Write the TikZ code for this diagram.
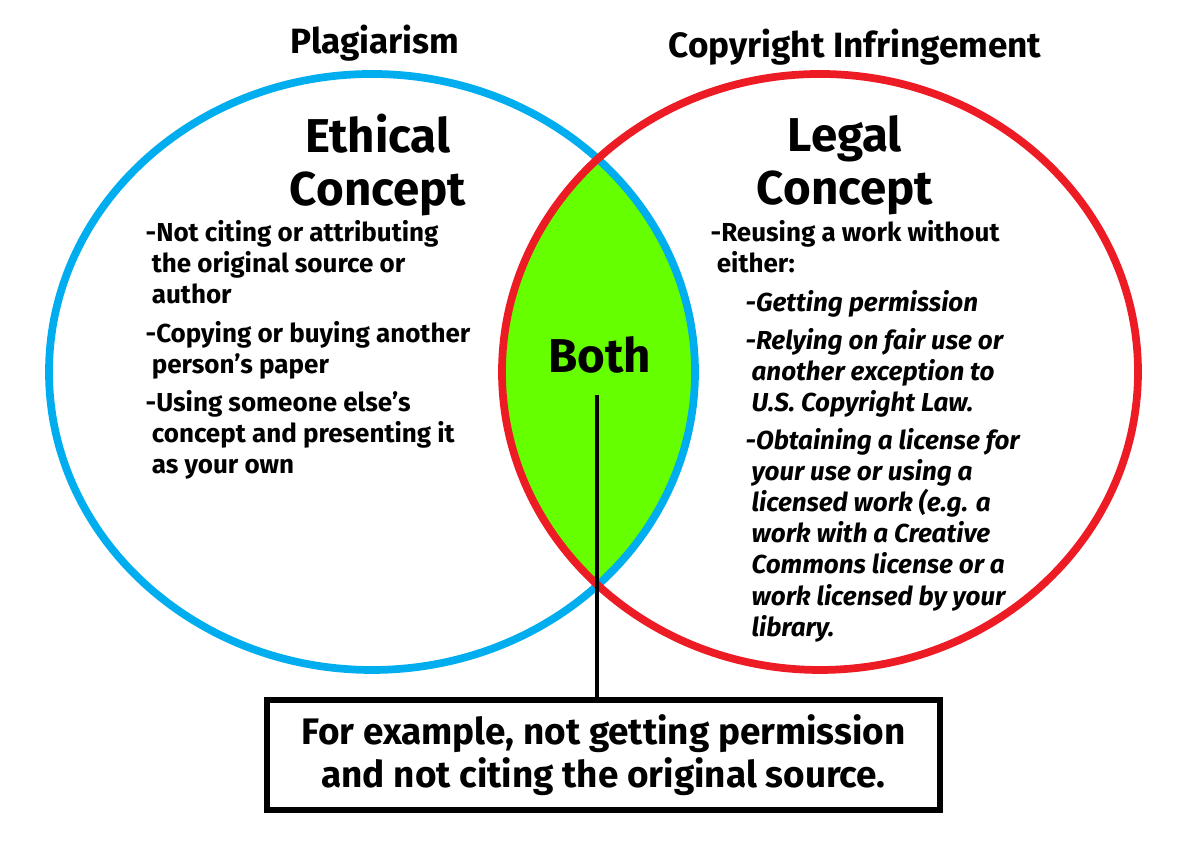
\documentclass[tikz,border=0pt]{standalone}
\usepackage{fontspec}
\setmainfont{Fira Sans}
\usetikzlibrary{positioning}
\definecolor{plagblue}{RGB}{0,174,239}
\definecolor{copyred}{RGB}{237,28,36}
\definecolor{bothgreen}{RGB}{102,255,0}
\newcommand*{\legalsub}{\hspace*{3.5mm}\itshape}

\begin{document}
\begin{tikzpicture}[%
  % common options for the titles above the circles:
  title/.style = {font=\fontsize{10}{11}\selectfont\bfseries, inner sep=0},
  % common options for the concept headings:
  heading/.style = {font=\fontsize{13.5}{15}\selectfont\bfseries, align=center, inner sep=0},
  % common options for the bullet texts:
  listing/.style = {font=\fontsize{7.4}{8.85}\selectfont\bfseries, align=left,
              anchor=north west, inner sep=0}]

\useasboundingbox (0,0) rectangle (12,8.5);

% the overlap of both circles
\begin{scope}
  \clip (3.72,4.78) ellipse [x radius=3.23, y radius=2.98];
  \fill[bothgreen] (8.20,4.78) ellipse [x radius=3.18, y radius=2.98];
\end{scope}

% the two circles
\draw[plagblue, line width=2.2pt] (3.72,4.78) ellipse [x radius=3.23, y radius=2.98];
\draw[copyred, line width=2.2pt] (8.20,4.78) ellipse [x radius=3.18, y radius=2.98];

% titles above the circles
\node[title] (plag) at (3.75,8.07) {Plagiarism};
\node[title] (copy) at (8.55,8.03) {Copyright Infringement};

% concept headings
\node[heading] (ethical) at (3.78,6.85) {Ethical\\Concept};
\node[heading] (legal) at (8.45,6.85) {Legal\\Concept};
\node[heading] (both) at (6.00,4.95) {Both};

% left list
\node[listing] (ethlist) at (1.45,6.30) {%
  -Not citing or attributing\\
  \ the original source or\\
  \ author\\[2pt]
  -Copying or buying another\\
  \ person’s paper\\[2pt]
  -Using someone else’s\\
  \ concept and presenting it\\
  \ as your own};

% right list
\node[listing] (leglist) at (7.10,6.30) {%
  -Reusing a work without\\
  \ either:\\[2pt]
  \legalsub -Getting permission\\[2pt]
  \legalsub -Relying on fair use or\\
  \legalsub \ another exception to\\
  \legalsub \ U.S. Copyright Law.\\[2pt]
  \legalsub -Obtaining a license for\\
  \legalsub \ your use or using a\\
  \legalsub \ licensed work (e.g. a\\
  \legalsub \ work with a Creative\\
  \legalsub \ Commons license or a\\
  \legalsub \ work licensed by your\\
  \legalsub \ library.};

% example box
\node[draw, line width=1.8pt, minimum width=6.73cm, minimum height=1.10cm,
  font=\fontsize{10.5}{12.3}\selectfont\bfseries, align=center]
  (example) at (6.035,0.95) {For example, not getting permission\\
  and not citing the original source.};

% pointer from the overlap to the box
\coordinate (tip) at (5.97,4.55);
\draw[line width=1.4pt] (tip) -- (tip |- example.north);
\end{tikzpicture}
\end{document}
